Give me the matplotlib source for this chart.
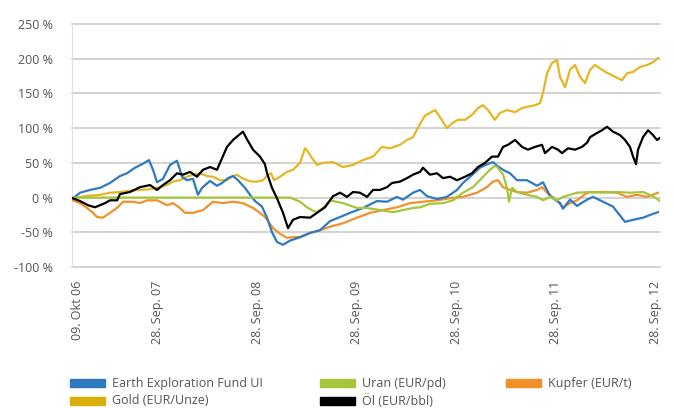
import matplotlib
matplotlib.use('Agg')
import matplotlib.pyplot as plt
from matplotlib.patches import Rectangle

plt.rcParams['font.family'] = ['Open Sans', 'DejaVu Sans']

# x in axis units: 1 unit = one label interval (28. Sep. each year)
tick_pos = [0.195, 1, 2, 3, 4, 5, 6]
tick_labels = ['09. Okt 06', '28. Sep. 07', '28. Sep. 08', '28. Sep. 09',
               '28. Sep. 10', '28. Sep. 11', '28. Sep. 12']
y_ticks = [-100, -50, 0, 50, 100, 150, 200, 250]

earth_t = [0.145, 0.215, 0.316, 0.417, 0.517, 0.618, 0.688, 0.769, 0.839, 0.909,
           0.950, 0.990, 1.050, 1.121, 1.191, 1.221, 1.241, 1.292, 1.352, 1.402,
           1.443, 1.523, 1.594, 1.644, 1.704, 1.755, 1.805, 1.875, 1.926, 1.976,
           2.046, 2.097, 2.147, 2.197, 2.258, 2.328, 2.429, 2.529, 2.630, 2.730,
           2.831, 2.932, 3.062, 3.203, 3.304, 3.404, 3.465, 3.565, 3.636, 3.706,
           3.807, 3.907, 4.008, 4.068, 4.139, 4.239, 4.310, 4.370, 4.410, 4.471,
           4.541, 4.612, 4.712, 4.813, 4.873, 4.944, 5.044, 5.074, 5.145, 5.215,
           5.316, 5.376, 5.477, 5.577, 5.648, 5.698, 5.779, 5.879, 5.950, 6.030]
earth_v = [-1, 7, 11, 14, 21, 31, 35, 43, 48, 54,
           40, 22, 27, 47, 53, 40, 30, 25, 27, 4,
           14, 24, 17, 21, 28, 31, 25, 14, 4, -5,
           -13, -29, -50, -64, -68, -62, -57, -51, -47, -34,
           -28, -22, -15, -5, -6, 1, -3, 7, 11, 2,
           -2, 1, 11, 21, 30, 43, 48, 51, 46, 40,
           35, 25, 25, 17, 22, 2, -8, -16, -3, -12,
           -3, 1, -6, -13, -26, -35, -32, -29, -25, -21]

oel_t = [0.145, 0.215, 0.296, 0.366, 0.417, 0.467, 0.517, 0.588, 0.618, 0.718,
         0.819, 0.920, 0.990, 1.050, 1.121, 1.191, 1.252, 1.322, 1.392, 1.453,
         1.523, 1.594, 1.624, 1.694, 1.755, 1.805, 1.855, 1.895, 1.956, 2.026,
         2.076, 2.097, 2.147, 2.197, 2.258, 2.308, 2.358, 2.429, 2.529, 2.610,
         2.680, 2.761, 2.831, 2.901, 2.962, 3.032, 3.103, 3.163, 3.233, 3.304,
         3.354, 3.435, 3.505, 3.565, 3.636, 3.666, 3.736, 3.807, 3.867, 3.938,
         4.008, 4.088, 4.159, 4.219, 4.290, 4.360, 4.420, 4.471, 4.521, 4.592,
         4.662, 4.722, 4.793, 4.863, 4.893, 4.964, 5.024, 5.064, 5.125, 5.195,
         5.265, 5.316, 5.346, 5.416, 5.467, 5.517, 5.577, 5.648, 5.698, 5.748,
         5.779, 5.809, 5.829, 5.879, 5.930, 5.980, 6.020, 6.050]
oel_v = [-1, -5, -11, -14, -11, -8, -4, -4, 5, 8,
         15, 18, 11, 18, 25, 35, 33, 37, 30, 40,
         44, 40, 50, 73, 83, 89, 95, 84, 69, 59,
         48, 35, 14, -1, -22, -44, -32, -28, -29, -21,
         -14, 2, 7, 1, 8, 7, 1, 11, 11, 15,
         21, 23, 28, 33, 37, 43, 33, 35, 28, 30,
         25, 30, 35, 44, 50, 59, 59, 73, 76, 83,
         73, 69, 73, 76, 64, 73, 69, 64, 71, 69,
         73, 79, 87, 93, 97, 102, 95, 90, 83, 73,
         59, 48, 69, 87, 97, 90, 83, 86]

gold_t = [0.145, 0.266, 0.417, 0.517, 0.618, 0.718, 0.819, 0.920, 1.020, 1.091,
          1.151, 1.221, 1.292, 1.352, 1.422, 1.493, 1.553, 1.624, 1.694, 1.744,
          1.795, 1.845, 1.895, 1.946, 1.996, 2.056, 2.107, 2.137, 2.167, 2.227,
          2.298, 2.358, 2.429, 2.479, 2.509, 2.549, 2.600, 2.660, 2.761, 2.861,
          2.962, 3.062, 3.163, 3.253, 3.334, 3.435, 3.505, 3.565, 3.636, 3.686,
          3.736, 3.787, 3.837, 3.907, 3.958, 4.018, 4.088, 4.159, 4.219, 4.270,
          4.320, 4.390, 4.441, 4.511, 4.592, 4.662, 4.722, 4.793, 4.843, 4.873,
          4.914, 4.964, 5.014, 5.044, 5.095, 5.145, 5.195, 5.245, 5.296, 5.346,
          5.396, 5.467, 5.527, 5.598, 5.668, 5.718, 5.779, 5.849, 5.920, 5.980,
          6.030]
gold_v = [-1, 2, 4, 7, 8, 10, 11, 12, 15, 18,
          23, 25, 30, 33, 35, 31, 30, 25, 25, 30,
          33, 28, 25, 23, 23, 25, 33, 35, 25, 30,
          37, 40, 50, 71, 66, 57, 47, 50, 51, 44,
          47, 54, 59, 73, 71, 76, 83, 87, 106, 118,
          122, 126, 116, 100, 107, 112, 112, 119, 129, 133,
          126, 112, 122, 126, 123, 129, 131, 133, 136, 151,
          179, 194, 198, 174, 159, 184, 191, 174, 165, 184,
          191, 184, 179, 174, 169, 179, 181, 188, 191, 195,
          201]

kupfer_t = [0.145, 0.215, 0.286, 0.346, 0.386, 0.447, 0.517, 0.588, 0.648, 0.748,
            0.819, 0.889, 0.990, 1.050, 1.091, 1.151, 1.221, 1.272, 1.352, 1.453,
            1.503, 1.553, 1.654, 1.755, 1.855, 1.956, 2.026, 2.076, 2.097, 2.157,
            2.227, 2.298, 2.358, 2.429, 2.529, 2.630, 2.730, 2.861, 3.002, 3.133,
            3.264, 3.404, 3.535, 3.666, 3.807, 3.938, 4.068, 4.209, 4.310, 4.370,
            4.420, 4.471, 4.541, 4.612, 4.712, 4.813, 4.863, 4.914, 5.014, 5.074,
            5.145, 5.215, 5.316, 5.416, 5.517, 5.618, 5.718, 5.819, 5.920, 6.030]
kupfer_v = [-4, -8, -15, -22, -28, -29, -22, -15, -6, -6,
            -8, -4, -4, -8, -11, -8, -15, -22, -22, -18,
            -12, -6, -8, -6, -8, -15, -22, -28, -32, -44,
            -52, -58, -57, -57, -51, -47, -42, -37, -29, -22,
            -18, -14, -8, -6, -4, -1, 1, 7, 15, 23,
            25, 15, 11, 8, 7, 11, 15, 7, -4, -14,
            -8, -4, 7, 8, 8, 7, 1, 4, 1, 7]

uran_t = [0.145, 2.330, 2.429, 2.499, 2.559, 2.600, 2.660, 2.730, 2.861, 3.002,
          3.103, 3.233, 3.364, 3.465, 3.565, 3.636, 3.736, 3.867, 3.968, 4.068,
          4.169, 4.270, 4.340, 4.390, 4.420, 4.471, 4.511, 4.531, 4.561, 4.612,
          4.712, 4.813, 4.873, 4.944, 5.014, 5.074, 5.215, 5.346, 5.477, 5.618,
          5.748, 5.879, 5.980, 6.050]
uran_v = [0, 0, -6, -14, -19, -21, -15, -4, -8, -15,
          -15, -18, -21, -18, -15, -14, -9, -8, -4, 7,
          15, 30, 40, 46, 43, 33, 14, -6, 14, 8,
          4, 1, -4, 1, -4, 1, 7, 8, 7, 8,
          7, 8, 2, -5]

c_earth, c_uran, c_kupfer = '#2f79c0', '#a5c63b', '#f0912a'
c_gold, c_oel = '#e5b623', '#000000'

fig = plt.figure(figsize=(6.75, 4.08), dpi=100)
ax = fig.add_axes([72 / 675, 1 - 267 / 408, 588 / 675, 243 / 408])

lw = 1.6
ax.plot(kupfer_t, kupfer_v, color=c_kupfer, lw=lw, zorder=3)
ax.plot(gold_t, gold_v, color=c_gold, lw=lw, zorder=3)
ax.plot(earth_t, earth_v, color=c_earth, lw=lw, zorder=4)
ax.plot(uran_t, uran_v, color=c_uran, lw=lw, zorder=4)
ax.plot(oel_t, oel_v, color=c_oel, lw=lw, zorder=5)

ax.set_xlim(0.135, 6.05)
ax.set_ylim(-100, 250)
ax.set_yticks(y_ticks)
ax.set_yticklabels([f'{v} %' for v in y_ticks])
ax.set_xticks(tick_pos)
ax.set_xticklabels(tick_labels, rotation=90)
ax.tick_params(length=0, colors='#555555', labelsize=9)
ax.tick_params(axis='y', pad=14)
ax.tick_params(axis='x', pad=10)

ax.grid(axis='y', color='#c8c8c8', lw=1.1)
ax.grid(axis='x', visible=False)
for gl in ax.get_ygridlines():
    gl.set_clip_on(False)
for s in ['top', 'right', 'bottom']:
    ax.spines[s].set_visible(False)
ax.spines['left'].set_color('#e2e2e2')
ax.set_axisbelow(True)

# legend, drawn by hand to keep the uneven column spacing
legend_items = [('Earth Exploration Fund UI', c_earth, 70, 383),
                ('Uran (EUR/pd)', c_uran, 320, 383),
                ('Kupfer (EUR/t)', c_kupfer, 506, 383),
                ('Gold (EUR/Unze)', '#dcae0a', 70, 401),
                ('Öl (EUR/bbl)', c_oel, 320, 401)]
W, H = 675, 408
for label, col, xp, yp in legend_items:
    fig.add_artist(Rectangle((xp / W, 1 - (yp + 4) / H), 35 / W, 8 / H,
                             color=col, transform=fig.transFigure))
    fig.text((xp + 42) / W, 1 - yp / H, label, fontsize=9, color='#555555',
             va='center', ha='left')

fig.savefig('out.png', dpi=100, facecolor='white')
